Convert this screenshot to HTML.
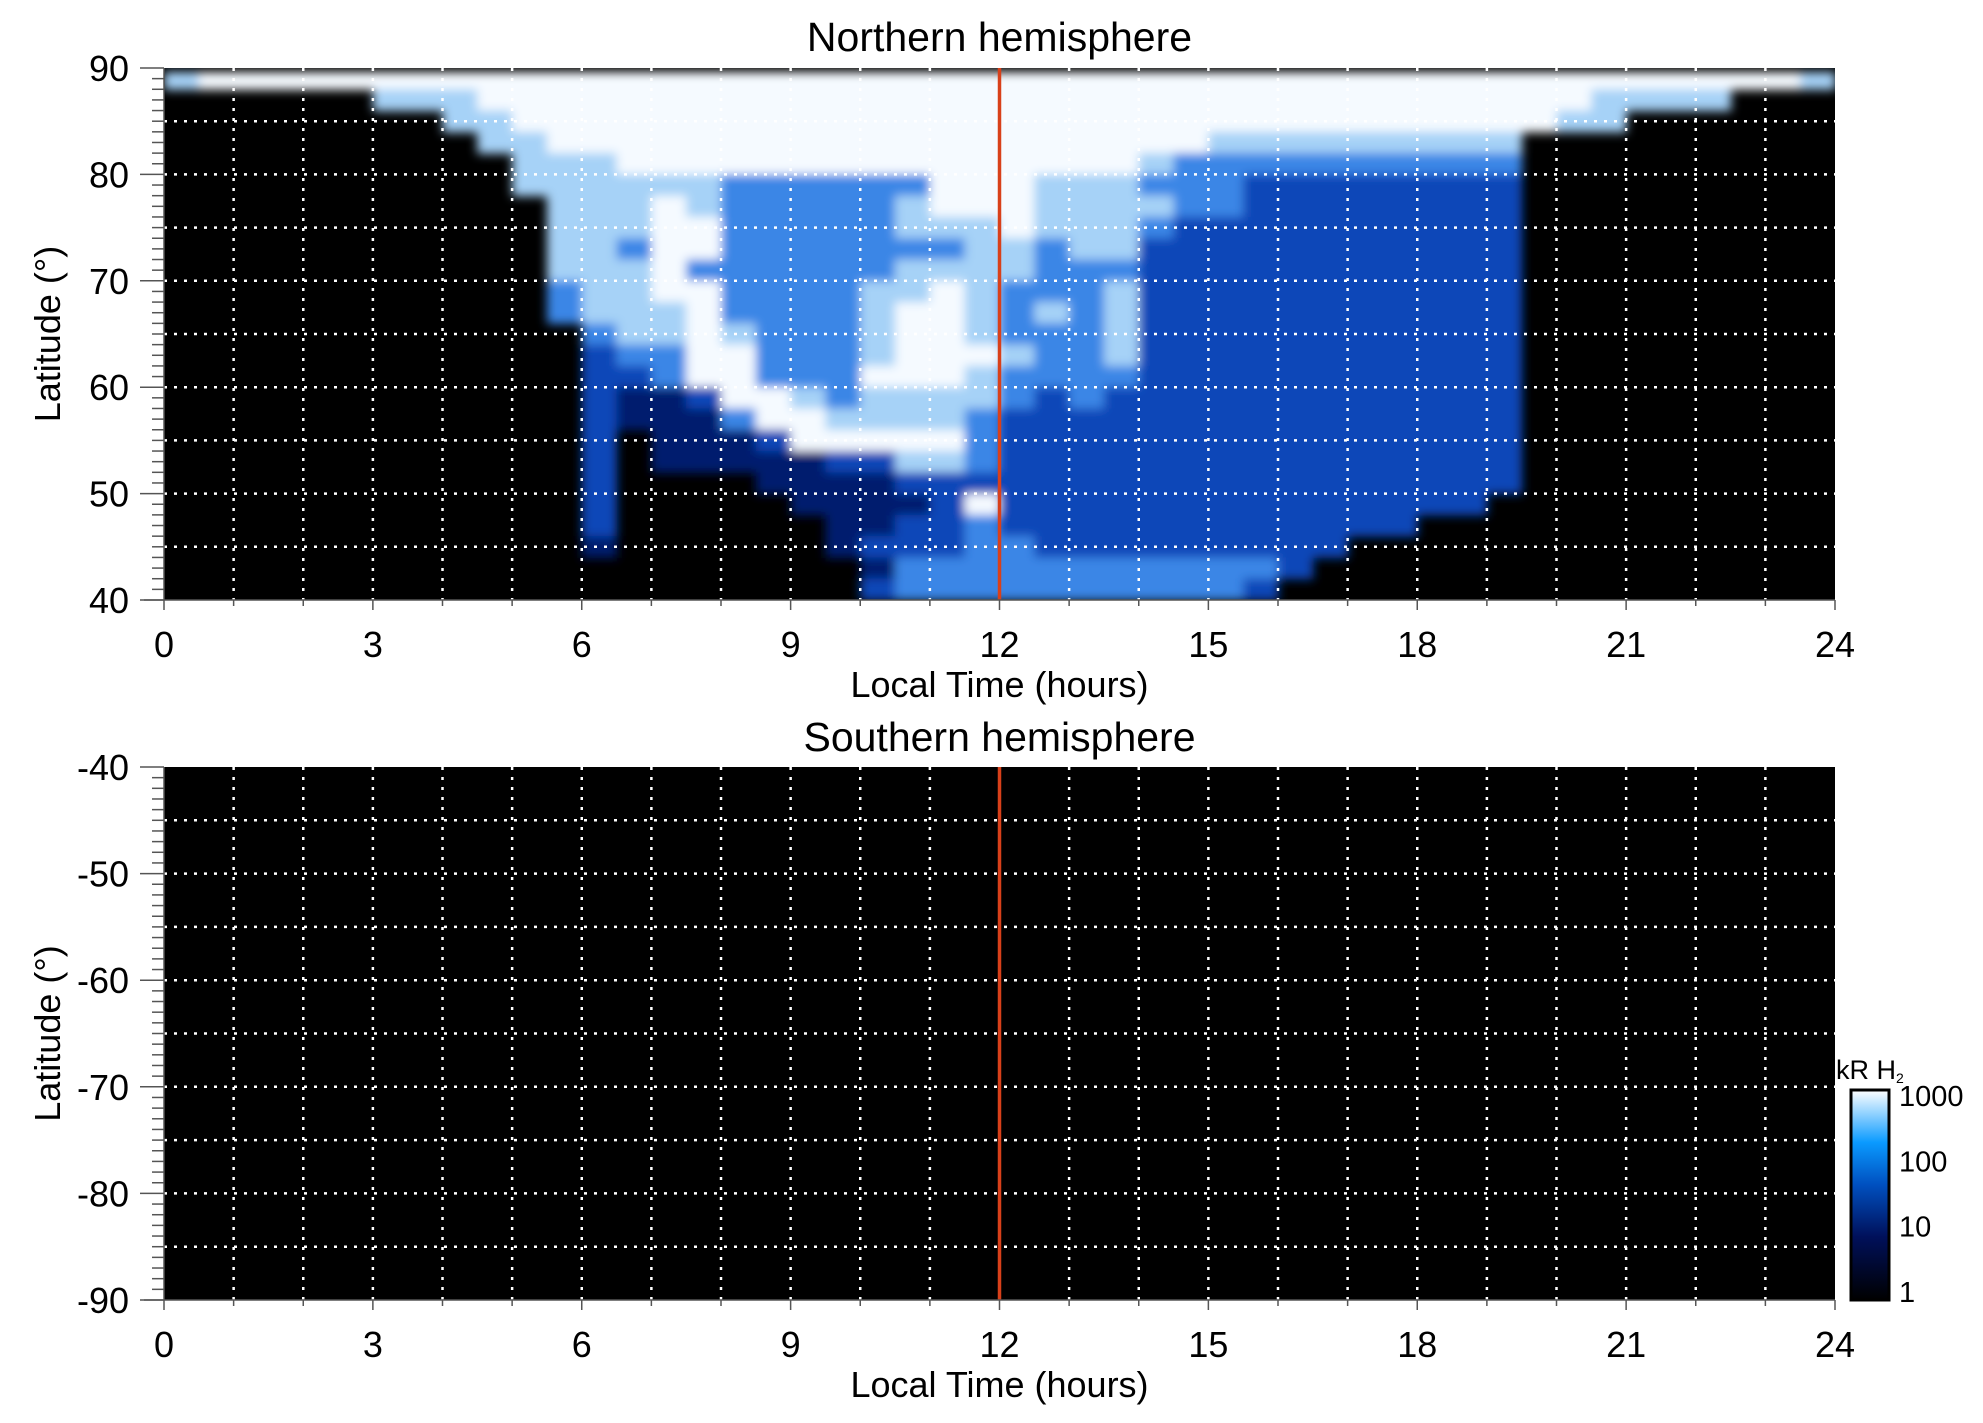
<!DOCTYPE html>
<html><head><meta charset="utf-8"><style>
html,body{margin:0;padding:0;background:#fff;}
svg{display:block;font-family:"Liberation Sans",Arial,sans-serif;}
</style></head><body>
<svg id="chart" width="1983" height="1423" viewBox="0 0 1983 1423" xmlns="http://www.w3.org/2000/svg">
<defs>
<linearGradient id="cbg" x1="0" y1="1" x2="0" y2="0">
<stop offset="0" stop-color="#000000"/><stop offset="0.3" stop-color="#00105a"/><stop offset="0.55" stop-color="#0050c0"/><stop offset="0.75" stop-color="#0a9aff"/><stop offset="1" stop-color="#ffffff"/>
</linearGradient>
<clipPath id="clipN"><rect x="164" y="68" width="1671" height="532"/></clipPath>
<filter id="soft" x="-5%" y="-5%" width="110%" height="110%"><feGaussianBlur stdDeviation="5"/></filter>
</defs>
<g id="root"></g>
</svg>
<script>
// ---- data ----
const hourTicks = [0,3,6,9,12,15,18,21,24];
const northLatTicks = [40,50,60,70,80,90];
const southLatTicks = [-90,-80,-70,-60,-50,-40];
const colorbarTicks = [1,10,100,1000];
const levelColors = ["#000000","#031a6e","#0d46b8","#3a86e6","#a6d2f7","#f5faff"];
// intensity levels: rows from 90°N down to 40°N in 2° bands, 48 columns of 0.5 h
const row00=[4,5,5,5,5,5,5,5,5,5,5,5,5,5,5,5,5,5,5,5,5,5,5,5,5,5,5,5,5,5,5,5,5,5,5,5,5,5,5,5,5,5,5,5,5,5,5,4];
const row01=[0,0,0,0,0,0,4,4,4,5,5,5,5,5,5,5,5,5,5,5,5,5,5,5,5,5,5,5,5,5,5,5,5,5,5,5,5,5,5,5,5,4,4,4,4,0,0,0];
const row02=[0,0,0,0,0,0,0,0,4,4,5,5,5,5,5,5,5,5,5,5,5,5,5,5,5,5,5,5,5,5,5,5,5,5,5,5,5,5,5,5,4,4,0,0,0,0,0,0];
const row03=[0,0,0,0,0,0,0,0,0,4,4,5,5,5,5,5,5,5,5,5,5,5,5,5,5,5,5,5,5,5,4,4,4,4,4,4,4,4,4,0,0,0,0,0,0,0,0,0];
const row04=[0,0,0,0,0,0,0,0,0,0,4,4,4,5,5,5,5,5,5,5,5,5,5,5,5,5,5,5,4,3,3,3,3,3,3,3,3,3,3,0,0,0,0,0,0,0,0,0];
const row05=[0,0,0,0,0,0,0,0,0,0,4,4,4,4,4,4,3,3,3,3,3,3,5,5,5,4,4,4,3,3,3,2,2,2,2,2,2,2,2,0,0,0,0,0,0,0,0,0];
const row06=[0,0,0,0,0,0,0,0,0,0,0,4,4,4,5,4,3,3,3,3,3,4,5,5,5,4,4,4,4,3,3,2,2,2,2,2,2,2,2,0,0,0,0,0,0,0,0,0];
const row07=[0,0,0,0,0,0,0,0,0,0,0,4,4,4,5,5,3,3,3,3,3,4,4,4,5,4,4,4,3,2,2,2,2,2,2,2,2,2,2,0,0,0,0,0,0,0,0,0];
const row08=[0,0,0,0,0,0,0,0,0,0,0,4,4,3,5,5,3,3,3,3,3,3,3,4,4,3,4,4,2,2,2,2,2,2,2,2,2,2,2,0,0,0,0,0,0,0,0,0];
const row09=[0,0,0,0,0,0,0,0,0,0,0,4,4,4,5,3,3,3,3,3,3,4,4,4,4,3,3,3,2,2,2,2,2,2,2,2,2,2,2,0,0,0,0,0,0,0,0,0];
const row10=[0,0,0,0,0,0,0,0,0,0,0,3,4,4,5,5,3,3,3,3,4,4,5,4,3,3,3,4,2,2,2,2,2,2,2,2,2,2,2,0,0,0,0,0,0,0,0,0];
const row11=[0,0,0,0,0,0,0,0,0,0,0,3,4,4,4,5,3,3,3,3,4,5,5,4,3,4,3,4,2,2,2,2,2,2,2,2,2,2,2,0,0,0,0,0,0,0,0,0];
const row12=[0,0,0,0,0,0,0,0,0,0,0,0,3,4,4,5,4,3,3,3,4,5,5,4,3,3,3,4,2,2,2,2,2,2,2,2,2,2,2,0,0,0,0,0,0,0,0,0];
const row13=[0,0,0,0,0,0,0,0,0,0,0,0,2,3,3,5,5,3,3,3,4,5,5,5,4,3,3,4,2,2,2,2,2,2,2,2,2,2,2,0,0,0,0,0,0,0,0,0];
const row14=[0,0,0,0,0,0,0,0,0,0,0,0,2,2,3,5,5,3,3,3,5,5,5,4,3,3,3,3,2,2,2,2,2,2,2,2,2,2,2,0,0,0,0,0,0,0,0,0];
const row15=[0,0,0,0,0,0,0,0,0,0,0,0,2,1,1,2,5,5,4,3,4,4,4,4,3,2,3,2,2,2,2,2,2,2,2,2,2,2,2,0,0,0,0,0,0,0,0,0];
const row16=[0,0,0,0,0,0,0,0,0,0,0,0,2,1,1,1,3,5,5,4,4,4,4,3,2,2,2,2,2,2,2,2,2,2,2,2,2,2,2,0,0,0,0,0,0,0,0,0];
const row17=[0,0,0,0,0,0,0,0,0,0,0,0,2,0,1,1,1,2,5,5,5,5,5,3,2,2,2,2,2,2,2,2,2,2,2,2,2,2,2,0,0,0,0,0,0,0,0,0];
const row18=[0,0,0,0,0,0,0,0,0,0,0,0,2,0,1,1,1,1,1,2,2,4,4,3,2,2,2,2,2,2,2,2,2,2,2,2,2,2,2,0,0,0,0,0,0,0,0,0];
const row19=[0,0,0,0,0,0,0,0,0,0,0,0,2,0,0,0,0,1,1,1,1,2,2,2,2,2,2,2,2,2,2,2,2,2,2,2,2,2,2,0,0,0,0,0,0,0,0,0];
const row20=[0,0,0,0,0,0,0,0,0,0,0,0,2,0,0,0,0,0,1,1,1,1,2,5,2,2,2,2,2,2,2,2,2,2,2,2,2,2,0,0,0,0,0,0,0,0,0,0];
const row21=[0,0,0,0,0,0,0,0,0,0,0,0,2,0,0,0,0,0,0,1,1,2,2,3,2,2,2,2,2,2,2,2,2,2,2,2,0,0,0,0,0,0,0,0,0,0,0,0];
const row22=[0,0,0,0,0,0,0,0,0,0,0,0,1,0,0,0,0,0,0,1,2,2,2,3,3,2,2,2,2,2,2,2,2,2,0,0,0,0,0,0,0,0,0,0,0,0,0,0];
const row23=[0,0,0,0,0,0,0,0,0,0,0,0,0,0,0,0,0,0,0,0,1,3,3,3,3,3,3,3,3,3,3,3,2,0,0,0,0,0,0,0,0,0,0,0,0,0,0,0];
const row24=[0,0,0,0,0,0,0,0,0,0,0,0,0,0,0,0,0,0,0,0,2,3,3,3,3,3,3,3,3,3,3,2,0,0,0,0,0,0,0,0,0,0,0,0,0,0,0,0];
const northGrid=[row00,row01,row02,row03,row04,row05,row06,row07,row08,row09,row10,row11,row12,row13,row14,row15,row16,row17,row18,row19,row20,row21,row22,row23,row24];
const markerHour = 12;

// ---- layout ----
const NS="http://www.w3.org/2000/svg";
const root=document.getElementById('root');
const X0=164,X1=1835;
const panels=[
 {key:'north',title:'Northern hemisphere',y0:68,y1:600,lmin:40,lmax:90,ticks:northLatTicks,titleY:51,labY:657,axY:697},
 {key:'south',title:'Southern hemisphere',y0:767,y1:1300,lmin:-90,lmax:-40,ticks:southLatTicks,titleY:751,labY:1357,axY:1397}
];
function xs(h){return X0+(h/24)*(X1-X0);}
function mk(tag,attrs,parent){const e=document.createElementNS(NS,tag);for(const k in attrs)e.setAttribute(k,attrs[k]);(parent||root).appendChild(e);return e;}

panels.forEach(p=>{
  const ys=l=>p.y1-(l-p.lmin)/(p.lmax-p.lmin)*(p.y1-p.y0);
  const g=mk('g',{});
  
  
  const bg=mk('rect',{x:X0,y:p.y0,width:X1-X0,height:p.y1-p.y0,fill:'#000'},g);
  
  
  if(p.key==='north'){
    const clipG=mk('g',{'clip-path':'url(#clipN)'},g);
    const hm=mk('g',{filter:'url(#soft)'},clipG);
    
    
    const nr=northGrid.length;
    northGrid.forEach((row,r)=>{
      const latTop=90-r*(50/nr), latBot=90-(r+1)*(50/nr);
      const nc=row.length;
      row.forEach((v,c)=>{
        if(v===0)return;
        const h0=c*24/nc,h1=(c+1)*24/nc;
        const yTop=(r===0)?ys(latTop)+4:ys(latTop);
        const cell=mk('rect',{x:xs(h0),y:yTop,width:xs(h1)-xs(h0)+0.6,height:ys(latBot)-yTop+0.6,fill:levelColors[v]},hm);
        
        
      });
    });
  }
  // grid
  for(let h=1;h<24;h++){
    const l=mk('line',{x1:xs(h),x2:xs(h),y1:p.y0,y2:p.y1,stroke:'#fff','stroke-width':2.5,'stroke-dasharray':'3 7'},g);
    
    
  }
  for(let lat=p.lmin+5;lat<p.lmax;lat+=5){
    const l=mk('line',{x1:X0,x2:X1,y1:ys(lat),y2:ys(lat),stroke:'#fff','stroke-width':2.5,'stroke-dasharray':'3 7'},g);
    
    
  }
  // red marker
  const red=mk('line',{x1:xs(markerHour),x2:xs(markerHour),y1:p.y0,y2:p.y1,stroke:'#d8401a','stroke-width':3.5},g);
  
  
  // axes lines
  mk('line',{x1:X0,x2:X0,y1:p.y0,y2:p.y1,stroke:'#555','stroke-width':1.5},g);
  const ax=mk('line',{x1:X0-20,x2:X1,y1:p.y1,y2:p.y1,stroke:'#555','stroke-width':1.5},g);
  
  
  // y ticks
  for(let lat=p.lmin;lat<=p.lmax;lat++){
    const major=(lat%10===0);
    mk('line',{x1:X0-(major?24:12),x2:X0,y1:ys(lat),y2:ys(lat),stroke:'#555','stroke-width':1.5},g);
  }
  p.ticks.forEach(t=>{
    const tx=mk('text',{x:X0-35,y:ys(t)+13,'text-anchor':'end','font-size':36,fill:'#000'},g);
    tx.textContent=t;
    
    
  });
  // x ticks
  for(let h=0;h<=24;h++){
    mk('line',{x1:xs(h),x2:xs(h),y1:p.y1,y2:p.y1+(h%3===0?10:6),stroke:'#555','stroke-width':1.5},g);
  }
  hourTicks.forEach(h=>{
    const tx=mk('text',{x:xs(h),y:p.labY,'text-anchor':'middle','font-size':36,fill:'#000'},g);
    tx.textContent=h;
    
    
  });
  const xt=mk('text',{x:(X0+X1)/2,y:p.axY,'text-anchor':'middle','font-size':36,fill:'#000'},g);
  xt.textContent='Local Time (hours)';
  
  
  const cy=(p.y0+p.y1)/2;
  const yt=mk('text',{x:0,y:0,transform:`translate(60,${cy}) rotate(-90)`,'text-anchor':'middle','font-size':36,fill:'#000'},g);
  yt.textContent='Latitude (°)';
  
  
  const tt=mk('text',{x:(X0+X1)/2,y:p.titleY,'text-anchor':'middle','font-size':41,fill:'#000'},g);
  tt.textContent=p.title;
  
  
});

// colorbar
const CB={x:1851,w:38,y0:1090,y1:1300};
const cbg=mk('g',{});


mk('rect',{x:CB.x,y:CB.y0,width:CB.w,height:CB.y1-CB.y0,fill:'url(#cbg)',stroke:'#000','stroke-width':3},cbg);
const cbs=v=>CB.y1-8-Math.log10(v)/3*(CB.y1-CB.y0-14);
colorbarTicks.forEach(v=>{
  const t=mk('text',{x:CB.x+CB.w+10,y:cbs(v)+10,'font-size':29,fill:'#000'},cbg);
  t.textContent=v;
  
  
});
const ct=mk('text',{x:1836,y:1079,'font-size':27,fill:'#000'},cbg);
ct.innerHTML='kR H<tspan font-size="14" dy="4">2</tspan>';


</script>
</body></html>
